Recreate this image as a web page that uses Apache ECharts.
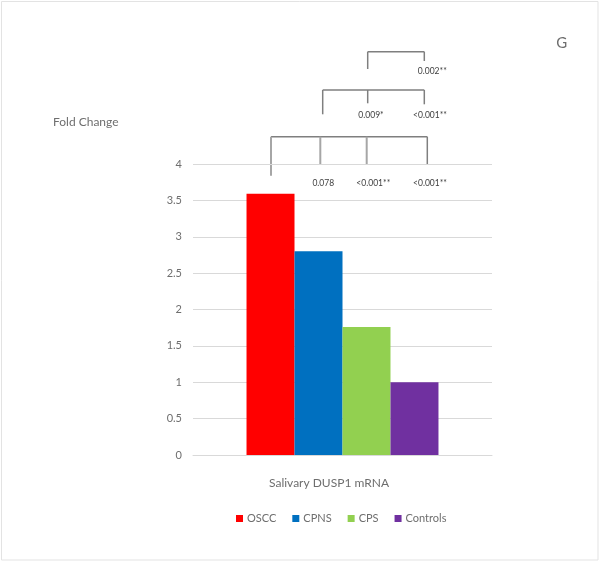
<!DOCTYPE html>
<html>
<head>
<meta charset="utf-8">
<script src="https://cdn.jsdelivr.net/npm/echarts@6/dist/echarts.min.js"></script>
<style>html,body{margin:0;padding:0;background:#fff}#c{width:601px;height:563px}</style>
</head>
<body>
<div id="c"></div>
<script>
var categories = ['Salivary DUSP1 mRNA'];
var seriesNames = ['OSCC', 'CPNS', 'CPS', 'Controls'];
var oscc = [3.59];
var cpns = [2.8];
var cps = [1.76];
var controls = [1.0];
var yTicks = [0, 0.5, 1, 1.5, 2, 2.5, 3, 3.5, 4];
var pLabels = ['0.078', '<0.001**', '<0.001**', '0.009*', '<0.001**', '0.002**'];

var colors = ['#ff0000', '#0070c0', '#92d050', '#7030a0'];
var font = 'Lato, "Liberation Sans", sans-serif';
var values = [oscc, cpns, cps, controls];

var chart = echarts.init(document.getElementById('c'), null, {renderer: 'canvas'});

var lineStyle = {stroke: '#7f7f7f', lineWidth: 1.5};
var lightLine = {stroke: '#a6a6a6', lineWidth: 2};
function seg(x1, y1, x2, y2, st) {
  return {type: 'line', shape: {x1: x1, y1: y1, x2: x2, y2: y2}, style: st, silent: true};
}
function txt(x, y, t, size, color) {
  return {type: 'text', x: x, y: y, style: {text: t, fontSize: size, fill: color, fontFamily: font, align: 'center', verticalAlign: 'middle'}, silent: true};
}

var graphics = [
  {type: 'rect', shape: {x: 1.5, y: 1.5, width: 596.5, height: 558.5}, style: {fill: 'none', stroke: '#e3e3e3', lineWidth: 1}, silent: true},
  // bottom bracket
  seg(271, 136.7, 427.3, 136.7, lineStyle),
  seg(271, 136.7, 271, 175.7, lightLine),
  seg(320.3, 136.7, 320.3, 165, lightLine),
  seg(366.7, 136.7, 366.7, 165, lightLine),
  seg(427.3, 136.7, 427.3, 164.5, lineStyle),
  // middle bracket
  seg(322.7, 90, 424.3, 90, lineStyle),
  seg(322.7, 90, 322.7, 114.3, lineStyle),
  seg(367.7, 90, 367.7, 103.3, lineStyle),
  seg(424.3, 90, 424.3, 104.3, lineStyle),
  // top bracket
  seg(367.7, 51.7, 424.3, 51.7, lineStyle),
  seg(367.7, 51.7, 367.7, 69, lineStyle),
  seg(424.3, 51.7, 424.3, 61, lineStyle),
  txt(323.3, 183.3, pLabels[0], 8.5, '#404040'),
  txt(373.3, 183.3, pLabels[1], 8.5, '#404040'),
  txt(430, 183.3, pLabels[2], 8.5, '#404040'),
  txt(371, 115.7, pLabels[3], 8.5, '#404040'),
  txt(430, 115.7, pLabels[4], 8.5, '#404040'),
  txt(432.3, 71, pLabels[5], 8.5, '#404040'),
  txt(561.7, 43.5, 'G', 15, '#6e6e6e'),
  {type: 'text', x: 53, y: 121.7, style: {text: 'Fold Change', fontSize: 12, fill: '#6e6e6e', fontFamily: font, align: 'left', verticalAlign: 'middle'}, silent: true}
];

var option = {
  animation: false,
  backgroundColor: '#ffffff',
  textStyle: {fontFamily: font},
  grid: {left: 193, right: 109, top: 164, bottom: 108, containLabel: false},
  xAxis: {
    type: 'category',
    data: categories,
    axisLine: {lineStyle: {color: '#d9d9d9', width: 1}},
    axisTick: {show: false},
    axisLabel: {color: '#6e6e6e', fontSize: 12, margin: 22, padding: [0, 27, 0, 0], fontFamily: font}
  },
  yAxis: {
    type: 'value',
    min: yTicks[0],
    max: yTicks[yTicks.length - 1],
    interval: 0.5,
    axisLine: {show: false},
    axisTick: {show: false},
    axisLabel: {color: '#6e6e6e', fontSize: 11, margin: 11, fontFamily: font},
    splitLine: {lineStyle: {color: '#d9d9d9', width: 1}}
  },
  legend: {
    data: seriesNames,
    left: 231,
    top: 508,
    icon: 'rect',
    itemWidth: 7,
    itemHeight: 7,
    itemGap: 16,
    textStyle: {color: '#6e6e6e', fontSize: 11, fontFamily: font, padding: [0, 0, 0, -1]}
  },
  series: seriesNames.map(function (n, i) {
    return {
      name: n,
      type: 'bar',
      data: values[i],
      itemStyle: {color: colors[i]},
      barGap: '0%',
      barCategoryGap: '35.8%'
    };
  }),
  graphic: graphics
};
chart.setOption(option);
</script>
</body>
</html>
